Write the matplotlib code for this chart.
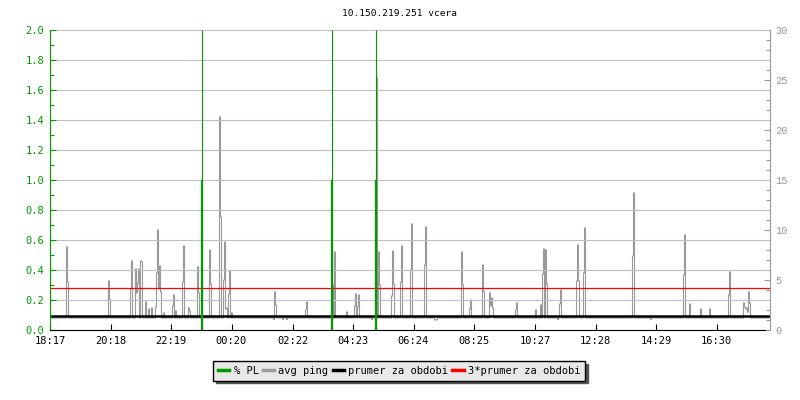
import numpy as np
import matplotlib.pyplot as plt
from matplotlib.lines import Line2D
from matplotlib.ticker import MultipleLocator

plt.rcParams['font.family'] = ['DejaVu Sans Mono']

title = '10.150.219.251 vcera'
start = '18:17'
tick_labels = ['18:17', '20:18', '22:19', '00:20', '02:22', '04:23',
               '06:24', '08:25', '10:27', '12:28', '14:29', '16:30']

# avg ping (ms, right axis): quiet level plus the spikes
base_ms = 1.2
ping_times = ['18:51', '18:53', '20:15', '20:17', '20:59', '21:01', '21:09', '21:11',
              '21:13', '21:15', '21:19', '21:21', '21:29', '21:35', '21:41', '21:49',
              '21:51', '21:53', '21:55', '21:57', '21:59', '22:05', '22:23', '22:25',
              '22:29', '22:43', '22:45', '22:55', '22:57', '23:13', '23:15', '23:37',
              '23:39', '23:57', '23:59', '00:05', '00:07', '00:09', '00:11', '00:15',
              '00:17', '00:21', '01:45', '01:47', '01:49', '02:03', '02:11', '02:49',
              '02:51', '03:43', '03:47', '04:11', '04:27', '04:29', '04:33', '04:35',
              '05:01', '05:09', '05:11', '05:15', '05:17', '05:41', '05:43', '05:45',
              '05:59', '06:01', '06:19', '06:21', '06:47', '06:49', '07:07', '07:09',
              '07:11', '08:01', '08:03', '08:17', '08:19', '08:43', '08:45', '08:57',
              '08:59', '09:01', '09:03', '09:49', '09:51', '10:29', '10:39', '10:43',
              '10:45', '10:49', '10:51', '11:13', '11:17', '11:19', '11:51', '11:53',
              '11:55', '12:05', '12:07', '13:43', '13:45', '14:19', '15:25', '15:27',
              '15:37', '15:59', '16:17', '16:55', '16:57', '17:25', '17:27', '17:29',
              '17:31', '17:33', '17:35', '17:37']
ping_ms = [8.3, 4.8, 4.9, 3.0, 4.1, 6.9, 6.1, 3.7,
           4.7, 6.1, 6.9, 6.8, 2.8, 2.1, 2.2, 2.3,
           5.7, 10.0, 4.1, 6.4, 3.8, 1.7, 2.4, 3.5,
           1.9, 4.8, 8.4, 2.2, 1.9, 6.3, 3.7, 8.0,
           4.6, 21.3, 11.3, 5.0, 8.8, 2.1, 2.2, 3.6,
           5.9, 1.7, 1.05, 3.8, 2.5, 1.05, 1.05, 2.0,
           2.8, 4.5, 7.8, 1.8, 2.4, 3.6, 2.3, 3.5,
           1.05, 13.2, 25.2, 7.8, 4.5, 3.4, 7.9, 4.6,
           4.8, 8.4, 6.0, 10.6, 6.5, 10.3, 1.0, 1.0,
           1.05, 7.8, 4.5, 2.1, 3.0, 6.5, 3.8, 3.7,
           2.4, 3.2, 2.2, 2.0, 2.7, 2.0, 2.5, 5.6,
           8.1, 8.0, 4.6, 1.05, 2.6, 4.0, 4.9, 8.5,
           4.9, 5.7, 10.2, 7.4, 13.7, 1.05, 5.5, 9.5,
           2.6, 2.1, 2.1, 3.5, 5.8, 2.7, 2.3, 2.1,
           2.2, 1.8, 3.8, 2.7]

avg_ms = 1.39          # prumer za obdobi
pl_times = ['23:21', '03:41', '05:09']
pl_values = [1.0, 1.0, 1.0]

start_min = int(start[:2]) * 60 + int(start[3:])


def offset(hhmm):
    h, m = hhmm.split(':')
    return (int(h) * 60 + int(m) - start_min) % 1440


t = np.arange(0, 1440, 2)
ping = np.full(len(t), base_ms)
for tm, v in zip(ping_times, ping_ms):
    ping[offset(tm) // 2] = v

green = '#009900'
gray = '#999999'

fig = plt.figure(figsize=(8, 4), dpi=100)
ax = fig.add_axes([0.0625, 0.175, 0.9, 0.75])
ax2 = ax.twinx()
ax.set_zorder(ax2.get_zorder() + 1)
ax.patch.set_visible(False)

ax2.plot(t, ping, drawstyle='steps-mid', color=gray, lw=0.8)
ax2.axhline(avg_ms, color='black', lw=1.8)
ax2.axhline(3 * avg_ms, color='red', lw=0.9)

pl_x = [offset(tm) for tm in pl_times]
ax.vlines(pl_x, 0, 2.0, color=green, lw=0.8)
ax.vlines(pl_x, 0, pl_values, color=green, lw=1.6)

ax.set_xlim(0, 1440)
ax.set_ylim(0, 2.0)
ax2.set_ylim(0, 30)

ax.yaxis.set_major_locator(MultipleLocator(0.2))
ax.yaxis.set_minor_locator(MultipleLocator(0.1))
ax.yaxis.set_major_formatter(plt.FormatStrFormatter('%.1f'))
ax.grid(axis='y', color='#c0c0c0', lw=0.8)
ax.set_axisbelow(True)
ax.set_xticks([offset(s) for s in tick_labels])
ax.set_xticklabels(tick_labels)

ax.tick_params(axis='y', which='both', direction='in', colors=green,
               labelsize=7.5, width=0.8, pad=4)
ax.tick_params(axis='y', which='major', length=4)
ax.tick_params(axis='y', which='minor', length=3)
ax.tick_params(axis='x', direction='in', length=4, width=0.8, labelsize=7.5, pad=4)

ax2.yaxis.set_major_locator(MultipleLocator(5))
ax2.yaxis.set_minor_locator(MultipleLocator(1))
ax2.tick_params(axis='y', which='both', direction='in', colors=gray,
                labelsize=7.5, width=0.8, pad=4)
ax2.tick_params(axis='y', which='major', length=4)
ax2.tick_params(axis='y', which='minor', length=3)
for lab in ax2.get_yticklabels():
    lab.set_family('Liberation Mono')

for a in (ax, ax2):
    a.spines['top'].set_visible(False)
    a.spines['left'].set_visible(False)
    a.spines['right'].set_visible(False)
    a.spines['bottom'].set_visible(False)
ax.spines['left'].set_visible(True)
ax.spines['left'].set_color(green)
ax.spines['bottom'].set_visible(True)
ax.spines['bottom'].set_bounds(0, 1430)
ax2.spines['right'].set_visible(True)
ax2.spines['right'].set_color(gray)

fig.text(0.5, 1 - 14 / 400, title, ha='center', va='center', fontsize=6.8)

handles = [Line2D([], [], color=c, lw=2.5) for c in (green, gray, 'black', 'red')]
labels = ['% PL', 'avg ping', 'prumer za obdobi', '3*prumer za obdobi']
leg = fig.legend(handles, labels, loc='center', bbox_to_anchor=(0.499, 0.0725),
                 ncol=4, fontsize=7.5, handlelength=1.1, handletextpad=0.4,
                 columnspacing=0.4, borderpad=0.45, fancybox=False,
                 edgecolor='black', facecolor='#e8e8e8', framealpha=1,
                 shadow={'color': '#555555', 'alpha': 1})
leg.get_frame().set_linewidth(1)

fig.savefig('out.png', dpi=100)
